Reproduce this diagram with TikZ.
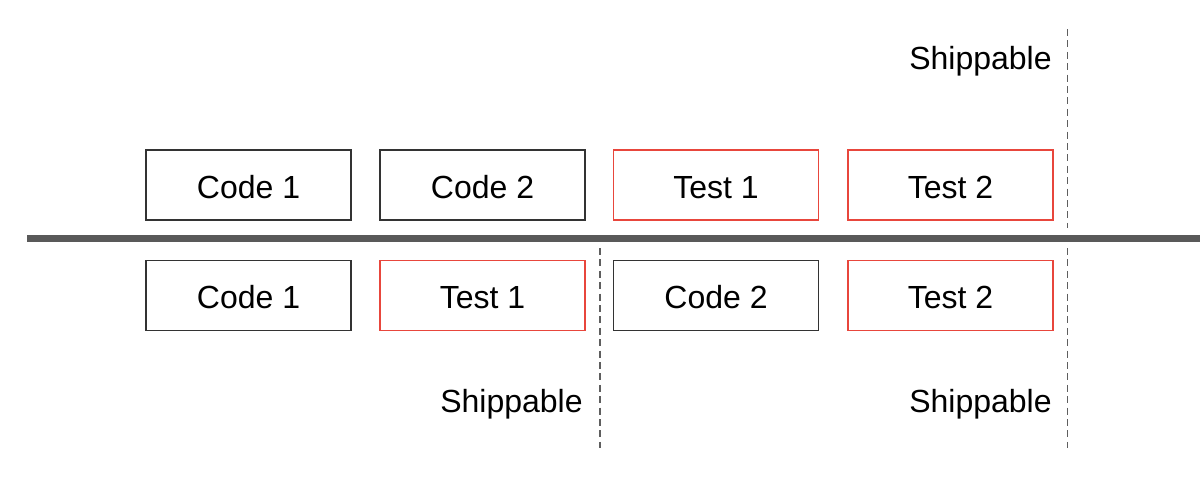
\documentclass[tikz,border=0pt]{standalone}
\usepackage{fontspec}
\setmainfont{Liberation Sans}
\definecolor{boxblack}{HTML}{333333}
\definecolor{boxred}{HTML}{E8463C}
\definecolor{bargray}{HTML}{595959}
\definecolor{dashgray}{HTML}{5E5E5E}
\begin{document}
\begin{tikzpicture}[x=0.5pt,y=-0.5pt,
  box/.style={draw=boxblack,line width=0.75pt,minimum width=102.5pt,minimum height=35pt,inner sep=0pt,text height=13pt,text depth=0pt,font=\fontsize{16}{19}\selectfont},
  redbox/.style={box,draw=boxred},
  ship/.style={anchor=base east,inner sep=0pt,font=\fontsize{16}{19}\selectfont},
  divider/.style={draw=dashgray,line width=0.9pt,dash pattern=on 3.5pt off 2.2pt},
  bar/.style={draw=bargray,line width=3.4pt}]
\useasboundingbox (0,0) rectangle (1200,484);
% top row
\node[box] (c1a) at (248.5,185) {Code 1};
\node[box] (c2a) at (482.5,185) {Code 2};
\node[redbox] (t1a) at (716,185) {Test 1};
\node[redbox] (t2a) at (950.5,185) {Test 2};
% bottom row
\node[box] (c1b) at (248.5,295.5) {Code 1};
\node[redbox] (t1b) at (482.5,295.5) {Test 1};
\node[box] (c2b) at (716,295.5) {Code 2};
\node[redbox] (t2b) at (950.5,295.5) {Test 2};
% thick timeline
\coordinate (barL) at (27,238.8);
\coordinate (barR) at (1200,238.8);
\draw[bar] (barL) -- (barR);
% dashed dividers
\coordinate (d1t) at (1067.5,29);
\coordinate (d1b) at (1067.5,228);
\coordinate (d2t) at (600,248);
\coordinate (d2b) at (600,448);
\coordinate (d3t) at (1067.5,248);
\coordinate (d3b) at (1067.5,448);
\draw[divider] (d1t) -- (d1b);
\draw[divider] (d2t) -- (d2b);
\draw[divider] (d3t) -- (d3b);
% labels
\node[ship] (s1) at (1052,69) {Shippable};
\node[ship] (s2) at (583,412) {Shippable};
\node[ship] (s3) at (1052,412) {Shippable};
\end{tikzpicture}
\end{document}
